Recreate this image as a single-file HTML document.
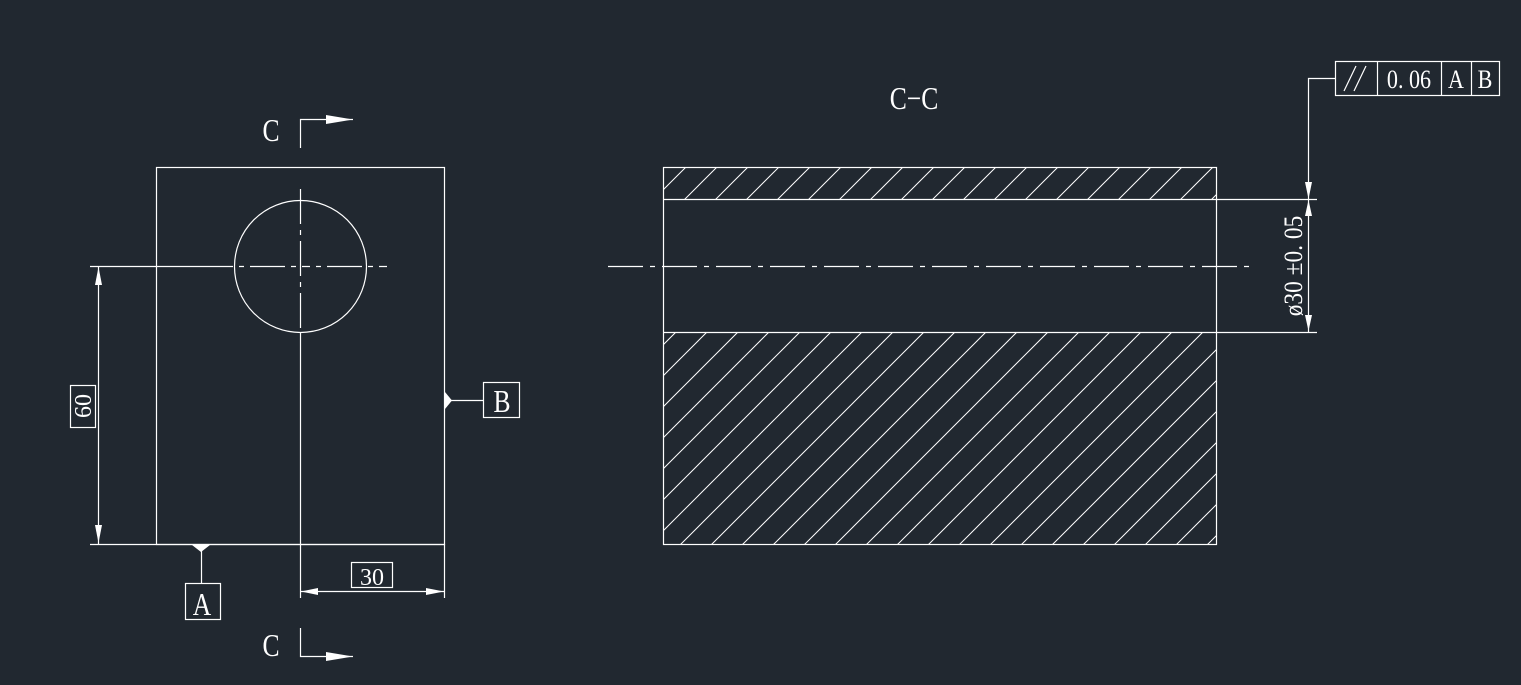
<!DOCTYPE html>
<html><head><meta charset="utf-8"><style>
html,body{margin:0;padding:0;background:#212830;}
svg{display:block;}
text{font-family:"Liberation Serif",serif;fill:#fff;}
</style></head><body>
<svg width="1521" height="685" viewBox="0 0 1521 685" xmlns="http://www.w3.org/2000/svg">
<defs>
<pattern id="h" patternUnits="userSpaceOnUse" x="16" y="0" width="31" height="31">
<line x1="-2" y1="33" x2="33" y2="-2" stroke="#fff" stroke-width="1"/>
<line x1="-33" y1="33" x2="2" y2="-2" stroke="#fff" stroke-width="1"/>
<line x1="29" y1="33" x2="64" y2="-2" stroke="#fff" stroke-width="1"/>
</pattern>
</defs>
<rect width="1521" height="685" fill="#212830"/>
<g stroke="#fff" stroke-width="1.2" fill="none">
<rect x="156.5" y="167.5" width="288" height="377"/>
<circle cx="300.5" cy="266.5" r="66"/>
<line x1="300.5" y1="189" x2="300.5" y2="333" stroke-dasharray="35,6,5,6"/>
<line x1="300.5" y1="333" x2="300.5" y2="598"/>
<line x1="90" y1="266.5" x2="225" y2="266.5"/>
<line x1="225" y1="266.5" x2="390" y2="266.5" stroke-dasharray="8,6,5,6,35,6,5,6"/>
<line x1="90" y1="544.5" x2="444" y2="544.5"/>
<line x1="98.5" y1="266" x2="98.5" y2="544"/>
<line x1="444.5" y1="544" x2="444.5" y2="598"/>
<line x1="300" y1="591.5" x2="444" y2="591.5"/>
<rect x="70.5" y="385.5" width="25" height="42"/>
<rect x="351.5" y="562.5" width="41" height="25"/>
<line x1="201.5" y1="544" x2="201.5" y2="583"/>
<rect x="185.5" y="583.5" width="35" height="36"/>
<line x1="444" y1="400.5" x2="483" y2="400.5"/>
<rect x="483.5" y="382.5" width="36" height="35"/>
<polyline points="300.5,148 300.5,119.5 353,119.5"/>
<polyline points="300.5,628 300.5,656.5 353,656.5"/>
<rect x="663.5" y="167.5" width="553" height="32" fill="url(#h)" stroke="none"/>
<rect x="663.5" y="332.5" width="553" height="212" fill="url(#h)" stroke="none"/>
<rect x="663.5" y="167.5" width="553" height="377"/>
<line x1="663" y1="199.5" x2="1317" y2="199.5"/>
<line x1="663" y1="332.5" x2="1317" y2="332.5"/>
<line x1="608" y1="266.5" x2="1255" y2="266.5" stroke-dasharray="35,7,5,7"/>
<line x1="1308.5" y1="199" x2="1308.5" y2="332"/>
<polyline points="1335,78.5 1308.5,78.5 1308.5,199"/>
<rect x="1335.5" y="61.5" width="164" height="34"/>
<line x1="1377.5" y1="61" x2="1377.5" y2="95"/>
<line x1="1441.5" y1="61" x2="1441.5" y2="95"/>
<line x1="1471.5" y1="61" x2="1471.5" y2="95"/>
<line x1="1344" y1="91" x2="1356" y2="66"/>
<line x1="1354" y1="91" x2="1366" y2="66"/>
</g>
<g fill="#fff">
<polygon points="98.5,267 95,285 102,285"/>
<polygon points="98.5,543 95,525 102,525"/>
<polygon points="301,591.5 318,588 318,595"/>
<polygon points="444,591.5 426,588 426,595"/>
<polygon points="353,119.5 326,115 326,124"/>
<polygon points="353,656.5 326,652 326,661"/>
<polygon points="1308.5,199 1305,182 1312,182"/>
<polygon points="1308.5,200 1305,216 1312,216"/>
<polygon points="1308.5,331 1305,315 1312,315"/>
<polygon points="192,545 210,545 201,552"/>
<polygon points="445,392 445,409 452,400.5"/>
</g>
<g>
<text x="271" y="141" font-size="32" text-anchor="middle" transform="translate(271,0) scale(0.8,1) translate(-271,0)">C</text>
<text x="271" y="656" font-size="32" text-anchor="middle" transform="translate(271,0) scale(0.8,1) translate(-271,0)">C</text>
<text x="914" y="109" font-size="32" text-anchor="middle" transform="translate(914,0) scale(0.8,1) translate(-914,0)">C−C</text>
<text x="372" y="585" font-size="24" text-anchor="middle">30</text>
<text x="202" y="615" font-size="32" text-anchor="middle" transform="translate(202,0) scale(0.8,1) translate(-202,0)">A</text>
<text x="502" y="412" font-size="32" text-anchor="middle" transform="translate(502,0) scale(0.8,1) translate(-502,0)">B</text>
<text transform="translate(91,406) rotate(-90)" font-size="24" text-anchor="middle">60</text>
<text transform="translate(1302,266) rotate(-90) scale(0.9,1)" font-size="26" text-anchor="middle">ø30 ±0. 05</text>
<text x="1409" y="88" font-size="26" text-anchor="middle" transform="translate(1409,0) scale(0.85,1) translate(-1409,0)">0. 06</text>
<text x="1456" y="88" font-size="26" text-anchor="middle" transform="translate(1456,0) scale(0.85,1) translate(-1456,0)">A</text>
<text x="1485" y="88" font-size="26" text-anchor="middle" transform="translate(1485,0) scale(0.85,1) translate(-1485,0)">B</text>
</g>
</svg>
</body></html>
